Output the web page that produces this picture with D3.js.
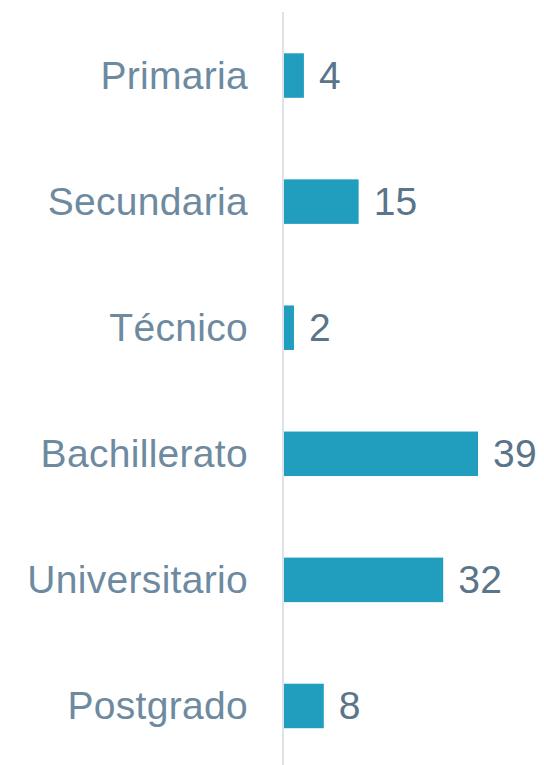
<!DOCTYPE html>
<html>
<head>
<meta charset="utf-8">
<script src="https://cdn.jsdelivr.net/npm/d3@7"></script>
<style>
  body { margin: 0; background: #fff; }
  svg { display: block; }
</style>
</head>
<body>
<div id="chart"></div>
<script>
// education level counts
const categories = ['Primaria', 'Secundaria', 'Técnico', 'Bachillerato', 'Universitario', 'Postgrado'];
const values = [4, 15, 2, 39, 32, 8];

const width = 544;
const height = 765;
const x0 = 284;

const svg = d3.select('#chart')
    .append('svg')
    .attr('width', width)
    .attr('height', height);

let y = d3.scaleBand()
    .domain(categories)
    .range([12.5, 769])
    .paddingInner(0.647)
    .paddingOuter(0.3235);

let x = d3.scaleLinear()
    .domain([0, 40])
    .range([x0, x0 + 199]);

let data = categories.map((c, i) => ({ cat: c, val: values[i] }));

// vertical baseline
svg.append('line')
    .attr('x1', x0 - 1).attr('x2', x0 - 1)
    .attr('y1', 12).attr('y2', height)
    .attr('stroke', '#dfe3e9')
    .attr('stroke-width', 2);

svg.selectAll('rect.bar')
    .data(data)
    .enter().append('rect')
    .attr('class', 'bar')
    .attr('x', x(0))
    .attr('y', d => y(d.cat))
    .attr('width', d => x(d.val) - x(0))
    .attr('height', y.bandwidth())
    .attr('fill', '#219dbd');

svg.selectAll('text.cat')
    .data(data)
    .enter().append('text')
    .attr('class', 'cat')
    .attr('x', 248)
    .attr('y', d => y(d.cat) + y.bandwidth() / 2 + 13)
    .attr('text-anchor', 'end')
    .style('font-family', 'Liberation Sans, Arial, sans-serif')
    .style('font-size', '39px')
    .style('letter-spacing', '0.3px')
    .attr('fill', '#6d8aa0')
    .text(d => d.cat);

svg.selectAll('text.val')
    .data(data)
    .enter().append('text')
    .attr('class', 'val')
    .attr('x', d => x(d.val) + 15)
    .attr('y', d => y(d.cat) + y.bandwidth() / 2 + 13)
    .style('font-family', 'Liberation Sans, Arial, sans-serif')
    .style('font-size', '39px')
    .style('letter-spacing', '0.3px')
    .attr('fill', '#5a7489')
    .text(d => d.val);
</script>
</body>
</html>
